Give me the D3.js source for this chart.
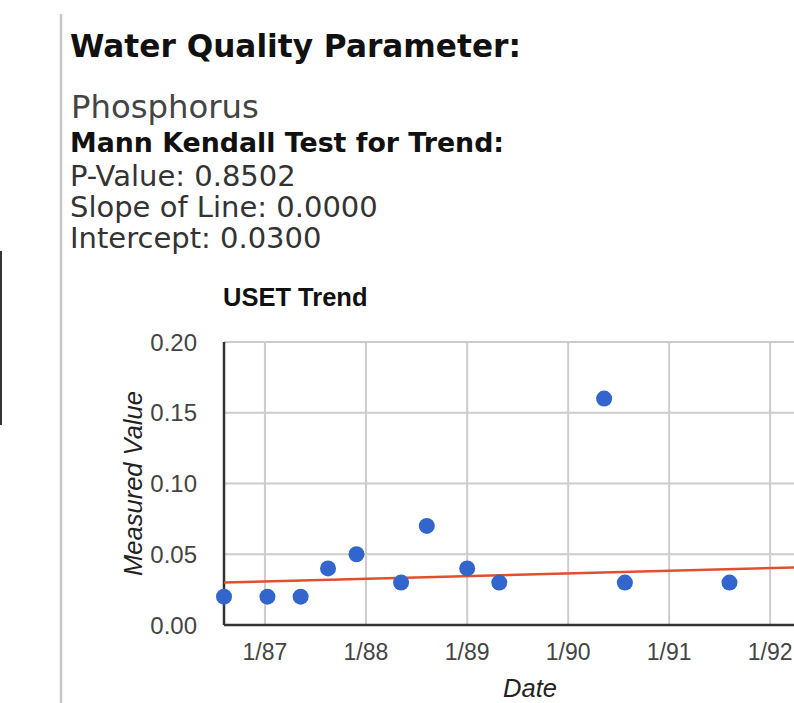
<!DOCTYPE html>
<html>
<head>
<meta charset="utf-8">
<script src="https://cdn.jsdelivr.net/npm/d3@7"></script>
<style>
  body { margin: 0; background: #fff; overflow: hidden; }
</style>
</head>
<body>
<svg id="page" width="794" height="703"></svg>
<script>
// header text
const paramName = "Phosphorus";
const statLines = ["P-Value: 0.8502", "Slope of Line: 0.0000", "Intercept: 0.0300"];

// measured samples
const sampleDates = ["1986-08-06", "1987-01-10", "1987-05-10", "1987-08-17", "1987-11-28", "1988-05-07",
                     "1988-08-08", "1989-01-01", "1989-04-27", "1990-05-11", "1990-07-25", "1991-08-07"];
const sampleValues = [0.02, 0.02, 0.02, 0.04, 0.05, 0.03, 0.07, 0.04, 0.03, 0.16, 0.03, 0.03];

// trend line end points
const trendDates = ["1986-08-06", "1992-08-26"];
const trendValues = [0.030, 0.0415];

const yTicks = [0, 0.05, 0.10, 0.15, 0.20];

const parse = d3.timeParse("%Y-%m-%d");
const samples = sampleDates.map((d, i) => ({ date: parse(d), value: sampleValues[i] }));
const trend = trendDates.map((d, i) => ({ date: parse(d), value: trendValues[i] }));

const svg = d3.select("#page");

// left side decoration
svg.append("line").attr("x1", 1).attr("x2", 1).attr("y1", 251).attr("y2", 425)
  .attr("stroke", "#333").attr("stroke-width", 2);
svg.append("line").attr("x1", 61).attr("x2", 61).attr("y1", 14).attr("y2", 703)
  .attr("stroke", "#c8c8c8").attr("stroke-width", 2.5);

// text block
const verdana = "Verdana, 'DejaVu Sans', sans-serif";
svg.append("text").attr("x", 70).attr("y", 57)
  .attr("font-family", verdana).attr("font-weight", "bold").attr("font-size", 31.2)
  .attr("fill", "#111").text("Water Quality Parameter:");
svg.append("text").attr("x", 71).attr("y", 118)
  .attr("font-family", verdana).attr("font-size", 32.3)
  .attr("fill", "#444").text(paramName);
svg.append("text").attr("x", 70).attr("y", 152)
  .attr("font-family", verdana).attr("font-weight", "bold").attr("font-size", 26.8)
  .attr("fill", "#111").text("Mann Kendall Test for Trend:");
svg.selectAll("text.stat").data(statLines).enter().append("text")
  .attr("class", "stat")
  .attr("x", 70).attr("y", (d, i) => 186 + i * 31)
  .attr("font-family", verdana).attr("font-size", 29)
  .attr("fill", "#333").text(d => d);

// chart
const m = { left: 224, right: 836, top: 342, bottom: 625 };
const arial = "Arial, 'Liberation Sans', sans-serif";

const x = d3.scaleTime().domain([trend[0].date, trend[1].date]).range([m.left, m.right]);
const y = d3.scaleLinear().domain([0, 0.2]).range([m.bottom, m.top]);

svg.append("text").attr("x", 223).attr("y", 306)
  .attr("font-family", arial).attr("font-weight", "bold").attr("font-size", 25.5)
  .attr("fill", "#111").text("USET Trend");

// grid
const yearTicks = x.ticks(d3.timeYear.every(1));
svg.append("g").selectAll("line").data(yearTicks).enter().append("line")
  .attr("x1", d => x(d)).attr("x2", d => x(d)).attr("y1", m.top).attr("y2", m.bottom)
  .attr("stroke", "#ccc").attr("stroke-width", 2);
svg.append("g").selectAll("line").data(yTicks.slice(1)).enter().append("line")
  .attr("x1", m.left).attr("x2", m.right).attr("y1", d => y(d)).attr("y2", d => y(d))
  .attr("stroke", "#ccc").attr("stroke-width", 2);

// axes
svg.append("line").attr("x1", m.left).attr("x2", m.right).attr("y1", y(0)).attr("y2", y(0))
  .attr("stroke", "#333").attr("stroke-width", 2.5);
svg.append("line").attr("x1", m.left).attr("x2", m.left).attr("y1", m.top).attr("y2", m.bottom)
  .attr("stroke", "#333").attr("stroke-width", 2.5);

svg.append("g").selectAll("text").data(yTicks).enter().append("text")
  .attr("x", 197).attr("y", d => y(d) + 8.5)
  .attr("text-anchor", "end")
  .attr("font-family", arial).attr("font-size", 24).attr("fill", "#444")
  .text(d3.format(".2f"));

const fmt = d3.timeFormat("%-m/%y");
svg.append("g").selectAll("text").data(yearTicks).enter().append("text")
  .attr("x", d => x(d)).attr("y", 660)
  .attr("text-anchor", "middle")
  .attr("font-family", arial).attr("font-size", 23).attr("fill", "#444")
  .text(fmt);

svg.append("text").attr("x", (m.left + m.right) / 2).attr("y", 697)
  .attr("text-anchor", "middle").attr("font-style", "italic")
  .attr("font-family", arial).attr("font-size", 25.5).attr("fill", "#222").text("Date");
svg.append("text")
  .attr("transform", `translate(142,${(m.top + m.bottom) / 2}) rotate(-90)`)
  .attr("text-anchor", "middle").attr("font-style", "italic")
  .attr("font-family", arial).attr("font-size", 25.5).attr("fill", "#222").text("Measured Value");

// trend line
svg.append("path").datum(trend)
  .attr("d", d3.line().x(d => x(d.date)).y(d => y(d.value)))
  .attr("fill", "none").attr("stroke", "#e0502e").attr("stroke-width", 2.5);

// points
svg.append("g").selectAll("circle").data(samples).enter().append("circle")
  .attr("cx", d => x(d.date)).attr("cy", d => y(d.value)).attr("r", 8)
  .attr("fill", "#3366cc");
</script>
</body>
</html>
